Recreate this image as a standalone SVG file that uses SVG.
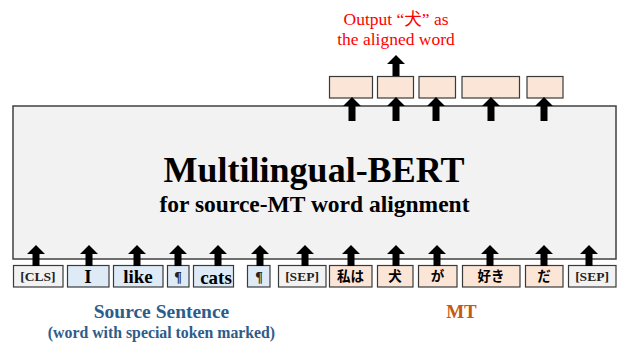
<svg xmlns="http://www.w3.org/2000/svg" width="619" height="343" viewBox="0 0 619 343">
<style>
.tok{stroke:#3a3a3a;stroke-width:1.2}
.sp{fill:#f2f2f2}
.src{fill:#deebf7}
.mt{fill:#fbe5d6}
.serif{font-family:"Liberation Serif","Times New Roman",serif;font-weight:bold}
.cjk{font-family:"Noto Sans CJK JP",sans-serif;font-weight:bold;font-size:13.5px}
.arrow{fill:#000}
text{text-anchor:middle}
</style>
<rect width="619" height="343" fill="#ffffff"/>
<g id="bert">
<rect x="13" y="106" width="603" height="153" fill="#f2f2f2" stroke="#404040" stroke-width="1.5"/>
<text x="314" y="182" class="serif" font-size="36" fill="#000">Multilingual-BERT</text>
<text x="314.5" y="212" class="serif" font-size="23.5" fill="#000">for source-MT word alignment</text>
</g>
<g id="out-note">
<text x="396" y="25" font-family="'Liberation Serif','Noto Sans CJK JP',serif" font-size="17.5" fill="#ff0000">Output “犬” as</text>
<text x="396" y="45" font-family="'Liberation Serif',serif" font-size="17.5" fill="#ff0000">the aligned word</text>
</g>
<g id="outputs">
<rect class="tok mt" x="329.5" y="76.5" width="43" height="21.5"/>
<rect class="tok mt" x="377.5" y="76.5" width="36" height="21.5"/>
<rect class="tok mt" x="419" y="76.5" width="36.5" height="21.5"/>
<rect class="tok mt" x="462" y="76.5" width="57.5" height="21.5"/>
<rect class="tok mt" x="527" y="76.5" width="36" height="21.5"/>
</g>
<g id="tokens">
<g id="t-cls"><rect class="tok sp" x="13.5" y="265.5" width="49.5" height="21.5"/><text x="38" y="281" class="serif" font-size="13.5" fill="#222">[CLS]</text></g>
<g id="t-i"><rect class="tok src" x="67.5" y="265.5" width="41.5" height="21.5"/><text x="88" y="283" class="serif" font-size="19" fill="#000">I</text></g>
<g id="t-like"><rect class="tok src" x="113.5" y="265.5" width="49.5" height="21.5"/><text x="138" y="283" class="serif" font-size="19" fill="#000">like</text></g>
<g id="t-p1"><rect class="tok src" x="167.5" y="265.5" width="21.5" height="21.5"/><text x="178" y="281.5" class="serif" font-size="14" fill="#222">¶</text></g>
<g id="t-cats"><rect class="tok src" x="193.5" y="265.5" width="40" height="21.5"/><text x="216" y="284" class="serif" font-size="19" fill="#000">cats</text></g>
<g id="t-p2"><rect class="tok src" x="247.5" y="265.5" width="22.5" height="21.5"/><text x="259" y="281.5" class="serif" font-size="14" fill="#222">¶</text></g>
<g id="t-sep1"><rect class="tok sp" x="278.5" y="265.5" width="47.5" height="21.5"/><text x="302" y="281" class="serif" font-size="13.5" fill="#222">[SEP]</text></g>
<g id="t-watashiwa"><rect class="tok mt" x="329.5" y="265.5" width="42.5" height="21.5"/><text x="350.5" y="281" class="cjk" fill="#000">私は</text></g>
<g id="t-inu"><rect class="tok mt" x="377.5" y="265.5" width="35.5" height="21.5"/><text x="395" y="281" class="cjk" fill="#000">犬</text></g>
<g id="t-ga"><rect class="tok mt" x="418.5" y="265.5" width="38.5" height="21.5"/><text x="437.5" y="281" class="cjk" fill="#000">が</text></g>
<g id="t-suki"><rect class="tok mt" x="462.5" y="265.5" width="57.5" height="21.5"/><text x="491" y="281" class="cjk" fill="#000">好き</text></g>
<g id="t-da"><rect class="tok mt" x="525.5" y="265.5" width="37.5" height="21.5"/><text x="544" y="281" class="cjk" fill="#000">だ</text></g>
<g id="t-sep2"><rect class="tok sp" x="568.5" y="265.5" width="47.5" height="21.5"/><text x="592" y="281" class="serif" font-size="13.5" fill="#222">[SEP]</text></g>
</g>
<g id="labels">
<text x="161.5" y="318" class="serif" font-size="19.5" fill="#2e5c8a">Source Sentence</text>
<text x="161.5" y="338" class="serif" font-size="15.8" fill="#2e5c8a">(word with special token marked)</text>
<text x="461.5" y="318" class="serif" font-size="19" fill="#c55a11">MT</text>
</g>
<g id="connectors" class="arrow">
<path d="M36 245 l9 9 h-5.5 v12 h-7 v-12 h-5.5 z"/>
<path d="M89 245 l9 9 h-5.5 v12 h-7 v-12 h-5.5 z"/>
<path d="M137 245 l9 9 h-5.5 v12 h-7 v-12 h-5.5 z"/>
<path d="M178 245 l9 9 h-5.5 v12 h-7 v-12 h-5.5 z"/>
<path d="M218 245 l9 9 h-5.5 v12 h-7 v-12 h-5.5 z"/>
<path d="M260 245 l9 9 h-5.5 v12 h-7 v-12 h-5.5 z"/>
<path d="M305 245 l9 9 h-5.5 v12 h-7 v-12 h-5.5 z"/>
<path d="M351 245 l9 9 h-5.5 v12 h-7 v-12 h-5.5 z"/>
<path d="M396 245 l9 9 h-5.5 v12 h-7 v-12 h-5.5 z"/>
<path d="M437 245 l9 9 h-5.5 v12 h-7 v-12 h-5.5 z"/>
<path d="M490 245 l9 9 h-5.5 v12 h-7 v-12 h-5.5 z"/>
<path d="M544 245 l9 9 h-5.5 v12 h-7 v-12 h-5.5 z"/>
<path d="M589 245 l9 9 h-5.5 v12 h-7 v-12 h-5.5 z"/>
<path d="M352 97 l9 9 h-5.5 v15 h-7 v-15 h-5.5 z"/>
<path d="M396 97 l9 9 h-5.5 v15 h-7 v-15 h-5.5 z"/>
<path d="M436 97 l9 9 h-5.5 v15 h-7 v-15 h-5.5 z"/>
<path d="M491 97 l9 9 h-5.5 v15 h-7 v-15 h-5.5 z"/>
<path d="M544 97 l9 9 h-5.5 v15 h-7 v-15 h-5.5 z"/>
<path d="M396 55 l9 9 h-5.5 v12 h-7 v-12 h-5.5 z"/>
</g>
</svg>
